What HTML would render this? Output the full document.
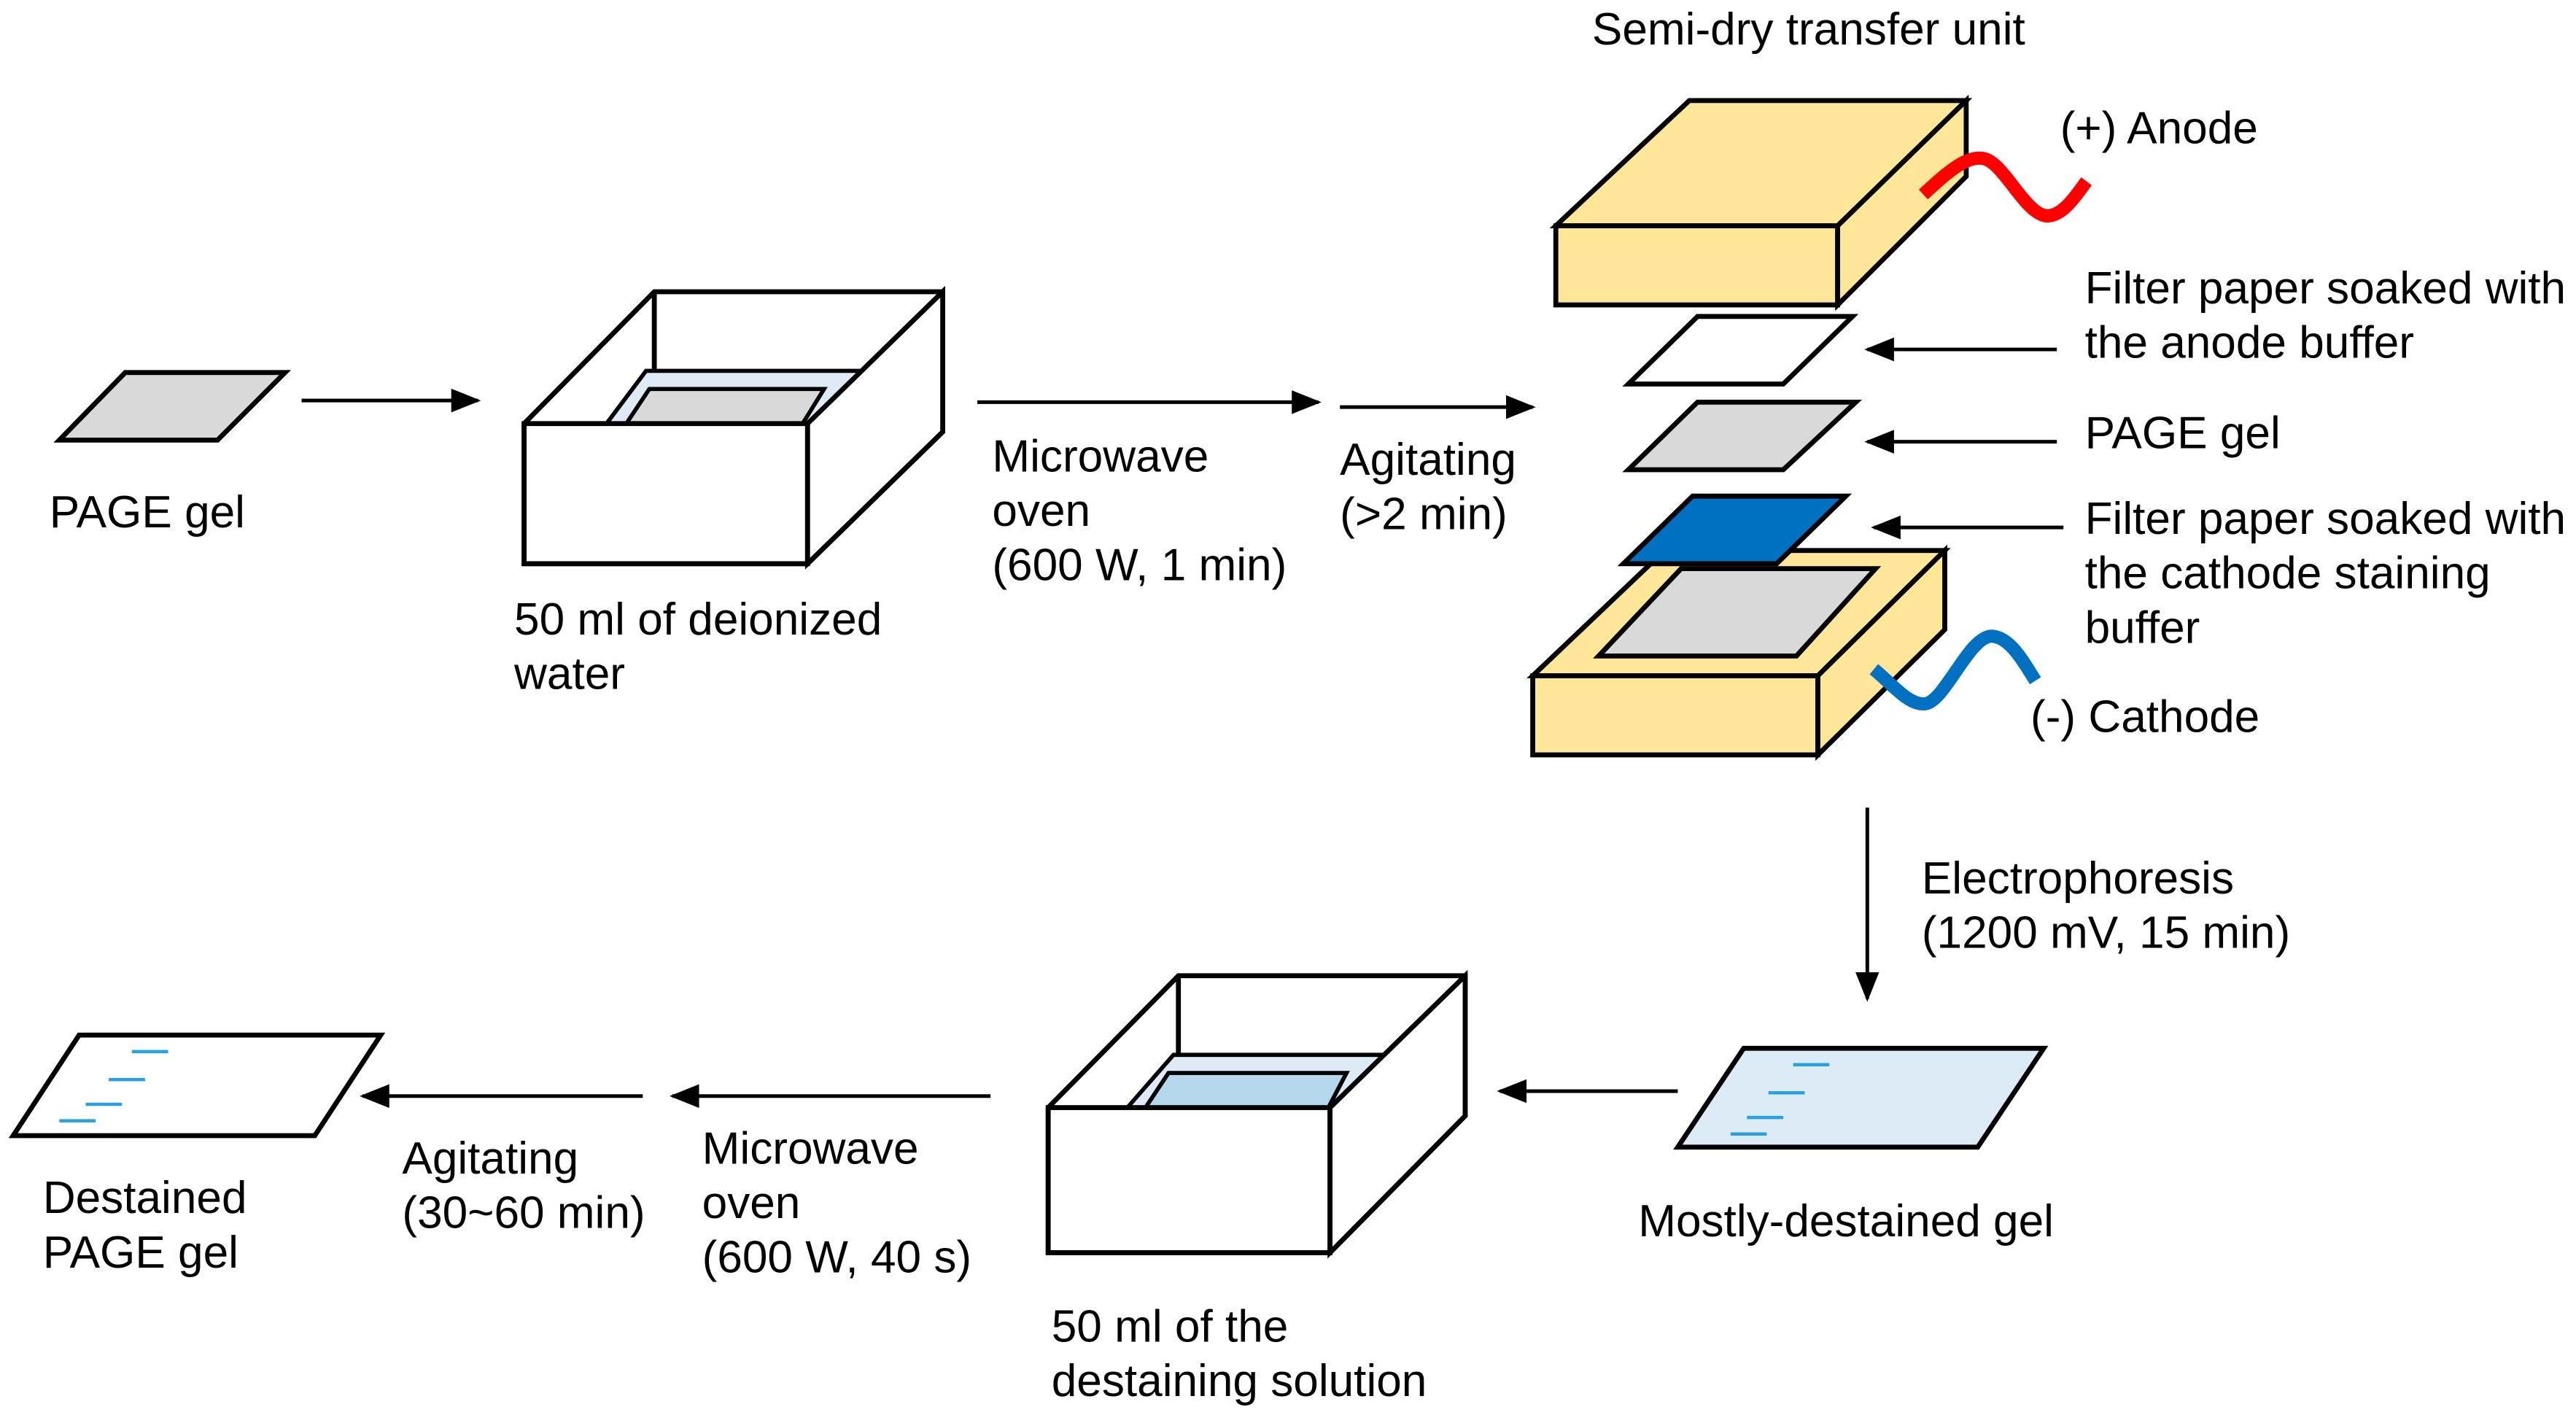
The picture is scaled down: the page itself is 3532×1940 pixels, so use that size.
<!DOCTYPE html>
<html><head><meta charset="utf-8"><style>html,body{margin:0;padding:0;background:#fff}svg{display:block}text{font-family:"Liberation Sans",sans-serif;font-size:27.5px;fill:#000}</style></head>
<body>
<svg width="3532" height="1940" viewBox="0 0 1563 858.5" xmlns="http://www.w3.org/2000/svg">
<defs>
<marker id="b" viewBox="0 0 10 10" refX="9" refY="5" markerWidth="18" markerHeight="18" markerUnits="userSpaceOnUse" orient="auto"><path d="M0,1L10,5L0,9z" fill="#000"/></marker></defs>
<g stroke="#000" stroke-width="3" stroke-linejoin="miter">
<polygon points="36,267 76,226 173,226 132,267" fill="#d9d9d9"/>
<polygon points="318,257 397,177 572,177 572,262 490,342 318,342" fill="#fff"/>
<line x1="397" y1="177" x2="397" y2="225"/>
<polygon points="368,257 392,225 522,225 497,257" fill="#deebf7" stroke-width="2.5"/>
<polygon points="380,257 394,236 500,236 487,257" fill="#d9d9d9" stroke-width="2.5"/>
<rect x="318" y="257" width="172" height="85" fill="#fff"/>
<polygon points="490,257 572,177 572,262 490,342" fill="#fff"/>
<polygon points="636,672 715,592 889,592 889,677 807,760 636,760" fill="#fff"/>
<line x1="715" y1="592" x2="715" y2="640"/>
<polygon points="684,672 712,640 840,640 814,672" fill="#deebf7" stroke-width="2.5"/>
<polygon points="695,672 709,651 817,651 806,672" fill="#b4d7ee" stroke-width="2.5"/>
<rect x="636" y="672" width="171" height="88" fill="#fff"/>
<polygon points="807,672 889,592 889,677 807,760" fill="#fff"/>
<polygon points="8,689 48,628 231,628 191,689" fill="#fff"/>
<polygon points="1018,696 1058,636 1240,636 1200,696" fill="#ddebf7"/>
<polygon points="944,137 1025,61 1193,61 1115,137" fill="#ffe699"/>
<rect x="944" y="137" width="171" height="48" fill="#ffe699"/>
<polygon points="1115,137 1193,61 1193,107 1115,185" fill="#ffe699"/>
<polygon points="988,233 1030,192 1124,192 1082,233" fill="#fff"/>
<polygon points="988,285 1030,244 1126,244 1082,285" fill="#d9d9d9"/>
<polygon points="930,410 1010,334 1180,334 1103,410" fill="#ffe699"/>
<polygon points="970,398 1020,345 1138,345 1090,398" fill="#d9d9d9"/>
<rect x="930" y="410" width="173" height="48" fill="#ffe699"/>
<polygon points="1103,410 1180,334 1180,382 1103,458" fill="#ffe699"/>
<polygon points="985,342 1027,301 1120,301 1078,342" fill="#0070c0"/>
</g>
<g stroke="#29a0e0" stroke-width="2">
<line x1="80" y1="638" x2="102" y2="638"/><line x1="66" y1="655" x2="88" y2="655"/><line x1="52" y1="670" x2="74" y2="670"/><line x1="36" y1="680" x2="58" y2="680"/>
<line x1="1088" y1="646" x2="1110" y2="646"/><line x1="1073" y1="663" x2="1095" y2="663"/><line x1="1060" y1="678" x2="1082" y2="678"/><line x1="1050" y1="688" x2="1072" y2="688"/>
</g>
<path d="M1167,118 C1180,106 1192,95 1202,96 C1215,96 1228,130 1242,131 C1252,131 1260,118 1266,110" fill="none" stroke="#f00" stroke-width="8"/>
<path d="M1137,406 C1148,415 1158,428 1168,427 C1180,426 1195,385 1209,386 C1220,387 1228,402 1235,413" fill="none" stroke="#0070c0" stroke-width="8"/>
<g stroke="#000" stroke-width="2.2" fill="none">
<line x1="183" y1="243" x2="290" y2="243" marker-end="url(#b)"/>
<line x1="593" y1="244" x2="800" y2="244" marker-end="url(#b)"/>
<line x1="813" y1="247" x2="930" y2="247" marker-end="url(#b)"/>
<line x1="1248" y1="212" x2="1133" y2="212" marker-end="url(#b)"/>
<line x1="1248" y1="268" x2="1133" y2="268" marker-end="url(#b)"/>
<line x1="1252" y1="320" x2="1137" y2="320" marker-end="url(#b)"/>
<line x1="1133" y1="490" x2="1133" y2="606" marker-end="url(#b)"/>
<line x1="1018" y1="662" x2="910" y2="662" marker-end="url(#b)"/>
<line x1="601" y1="665" x2="408" y2="665" marker-end="url(#b)"/>
<line x1="390" y1="665" x2="220" y2="665" marker-end="url(#b)"/>
</g>
<text x="966" y="27">Semi-dry transfer unit</text>
<text x="1250" y="87">(+) Anode</text>
<text x="1265" y="184">Filter paper soaked with</text>
<text x="1265" y="217">the anode buffer</text>
<text x="1265" y="272">PAGE gel</text>
<text x="1265" y="324">Filter paper soaked with</text>
<text x="1265" y="357">the cathode staining</text>
<text x="1265" y="390">buffer</text>
<text x="1232" y="444">(-) Cathode</text>
<text x="30" y="320">PAGE gel</text>
<text x="312" y="385">50 ml of deionized</text>
<text x="312" y="418">water</text>
<text x="602" y="286">Microwave</text>
<text x="602" y="319">oven</text>
<text x="602" y="352">(600 W, 1 min)</text>
<text x="813" y="288">Agitating</text>
<text x="813" y="321">(&gt;2 min)</text>
<text x="1166" y="542">Electrophoresis</text>
<text x="1166" y="575">(1200 mV, 15 min)</text>
<text x="994" y="750">Mostly-destained gel</text>
<text x="638" y="814">50 ml of the</text>
<text x="638" y="847">destaining solution</text>
<text x="426" y="706">Microwave</text>
<text x="426" y="739">oven</text>
<text x="426" y="772">(600 W, 40 s)</text>
<text x="244" y="712">Agitating</text>
<text x="244" y="745">(30~60 min)</text>
<text x="26" y="736">Destained</text>
<text x="26" y="769">PAGE gel</text>
</svg>
</body></html>
